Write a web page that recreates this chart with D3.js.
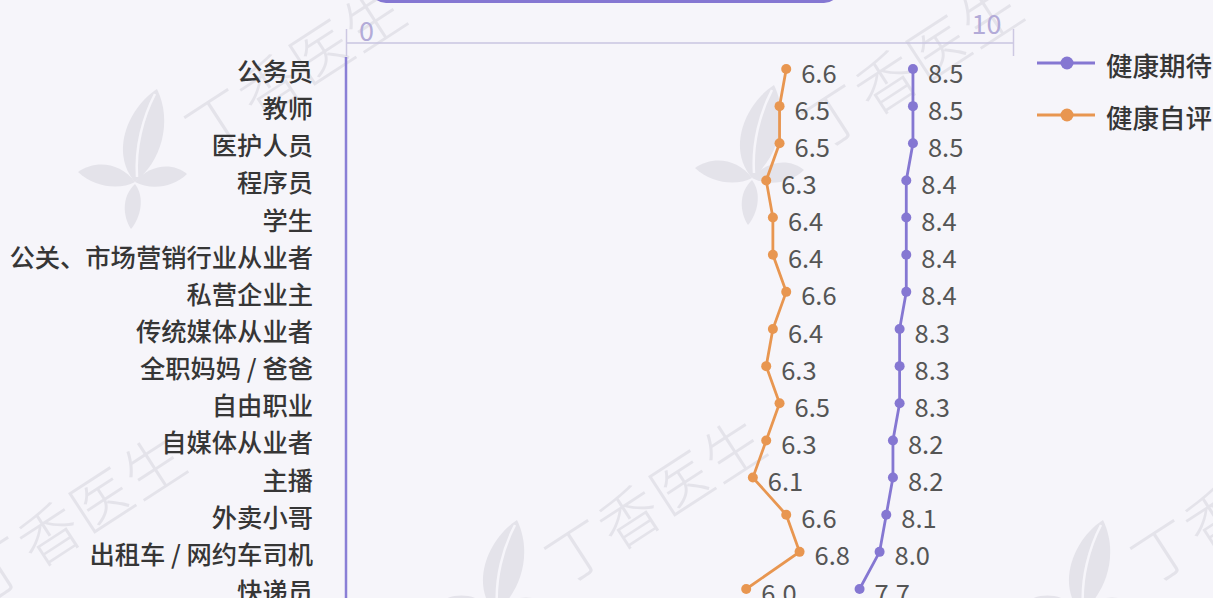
<!DOCTYPE html>
<html>
<head>
<meta charset="utf-8">
<script src="https://cdn.jsdelivr.net/npm/d3@7"></script>
<style>
  html, body { margin: 0; padding: 0; background: #f6f5fa; }
  svg { display: block; }
</style>
</head>
<body>
<svg id="chart" width="1213" height="598"></svg>
<script>
const categories = ["公务员", "教师", "医护人员", "程序员", "学生", "公关、市场营销行业从业者", "私营企业主", "传统媒体从业者", "全职妈妈 / 爸爸", "自由职业", "自媒体从业者", "主播", "外卖小哥", "出租车 / 网约车司机", "快递员"];
const expectation = [8.5, 8.5, 8.5, 8.4, 8.4, 8.4, 8.4, 8.3, 8.3, 8.3, 8.2, 8.2, 8.1, 8.0, 7.7];
const selfRating = [6.6, 6.5, 6.5, 6.3, 6.4, 6.4, 6.6, 6.4, 6.3, 6.5, 6.3, 6.1, 6.6, 6.8, 6.0];
const seriesNames = ["健康期待", "健康自评"];
const tickValues = [0, 10];
const watermarkText = "丁香医生";

const W = 1213, H = 598;
const purple = "#8577d2", orange = "#e89650";
const font = "'Noto Sans CJK SC', 'Noto Sans', sans-serif";

const svg = d3.select("#chart");
svg.append("rect").attr("width", W).attr("height", H).attr("fill", "#f6f5fa");

// watermarks
const wm = svg.append("g").attr("fill", "#e4e3ea");
const junctions = [[135, 182], [752, 178], [495, 613], [1081, 613], [-85, 630]];
junctions.forEach(([jx, jy]) => {
  const g = wm.append("g").attr("transform", `translate(${jx},${jy})`);
  g.append("path").attr("d", "M0,0 C-26,-30 -6,-75 22,-93 C38,-60 26,-20 0,0 Z");
  g.append("path").attr("d", "M0,0 C-15,-20 -40,-22 -57,-10 C-40,6 -15,8 0,0 Z");
  g.append("path").attr("d", "M0,0 C15,-18 38,-20 52,-8 C38,6 15,8 0,0 Z");
  g.append("path").attr("d", "M0,2 C-14,15 -12,35 -4,47 C6,35 10,15 0,2 Z");
  g.append("path").attr("d", "M2,-5 C0,-35 8,-65 20,-88").attr("fill", "none").attr("stroke", "#f6f5fa").attr("stroke-width", 2.5);
  watermarkText.split("").forEach((ch, i) => {
    const cx = 80 + i * 52, cy = -65 - i * 34;
    if (jx + cx < -30 || jx + cx > W + 30 || jy + cy < -30) return;
    g.append("text").attr("x", 0).attr("y", 0)
      .attr("transform", `translate(${cx},${cy}) rotate(-33)`)
      .attr("text-anchor", "middle").attr("dominant-baseline", "central")
      .attr("font-family", font).attr("font-size", 60).attr("font-weight", 300)
      .text(ch);
  });
});

// title box remnant
svg.append("rect").attr("x", 370).attr("y", -30).attr("width", 470).attr("height", 33)
  .attr("rx", 16).attr("fill", purple);

const x = d3.scaleLinear().domain([0, 10]).range([346, 1013]);
const y = d3.scalePoint().domain(categories).range([69, 589]);

// top axis
const axisY = 43;
const axisG = svg.append("g").attr("transform", `translate(0,${axisY})`)
  .call(d3.axisTop(x).tickValues(tickValues).tickSize(0).tickPadding(0));
axisG.select(".domain").attr("stroke", "#c9c4e0").attr("stroke-width", 1.5).attr("d", `M${x(0)},0H${x(10)}`);
axisG.selectAll(".tick line").attr("y1", 13).attr("y2", -14).attr("stroke", "#cdc8e2").attr("stroke-width", 1.5);
axisG.selectAll(".tick text")
  .attr("font-family", font).attr("font-size", 27).attr("fill", "#b3abd8")
  .attr("text-anchor", "middle").attr("dominant-baseline", "central")
  .attr("x", d => d === 0 ? 20 : -27)
  .attr("y", d => d === 0 ? -14 : -21);

// left axis line (purple)
svg.append("line").attr("x1", x(0)).attr("x2", x(0)).attr("y1", 57).attr("y2", H)
  .attr("stroke", "#8a7fd6").attr("stroke-width", 2.5);

// category labels
svg.append("g").selectAll("text").data(categories).join("text")
  .attr("x", 313).attr("y", d => y(d) + 1)
  .attr("text-anchor", "end").attr("dominant-baseline", "central")
  .attr("font-family", font).attr("font-size", 25.3).attr("font-weight", 500)
  .attr("fill", "#363636").text(d => d);

function drawSeries(values, color) {
  const pts = categories.map((c, i) => [x(values[i]), y(c), values[i]]);
  const g = svg.append("g");
  g.append("path").attr("d", d3.line()(pts.map(p => [p[0], p[1]])))
    .attr("fill", "none").attr("stroke", color).attr("stroke-width", 2.8);
  g.selectAll("circle").data(pts).join("circle")
    .attr("cx", d => d[0]).attr("cy", d => d[1]).attr("r", 5).attr("fill", color);
  g.selectAll("text").data(pts).join("text")
    .attr("x", d => d[0] + 15).attr("y", d => d[1] + 2)
    .attr("dominant-baseline", "central")
    .attr("font-family", font).attr("font-size", 25.5).attr("fill", "#555555")
    .text(d => d3.format(".1f")(d[2]));
}
drawSeries(expectation, purple);
drawSeries(selfRating, orange);

// legend
const legend = svg.append("g");
[[purple, 63], [orange, 115]].forEach(([c, ly], i) => {
  legend.append("line").attr("x1", 1037).attr("x2", 1095).attr("y1", ly).attr("y2", ly)
    .attr("stroke", c).attr("stroke-width", 2.8);
  legend.append("circle").attr("cx", 1067).attr("cy", ly).attr("r", 6.5).attr("fill", c);
  legend.append("text").attr("x", 1106).attr("y", ly + 1).attr("dominant-baseline", "central")
    .attr("font-family", font).attr("font-size", 26.5).attr("font-weight", 500)
    .attr("fill", "#363636").text(seriesNames[i]);
});
</script>
</body>
</html>
